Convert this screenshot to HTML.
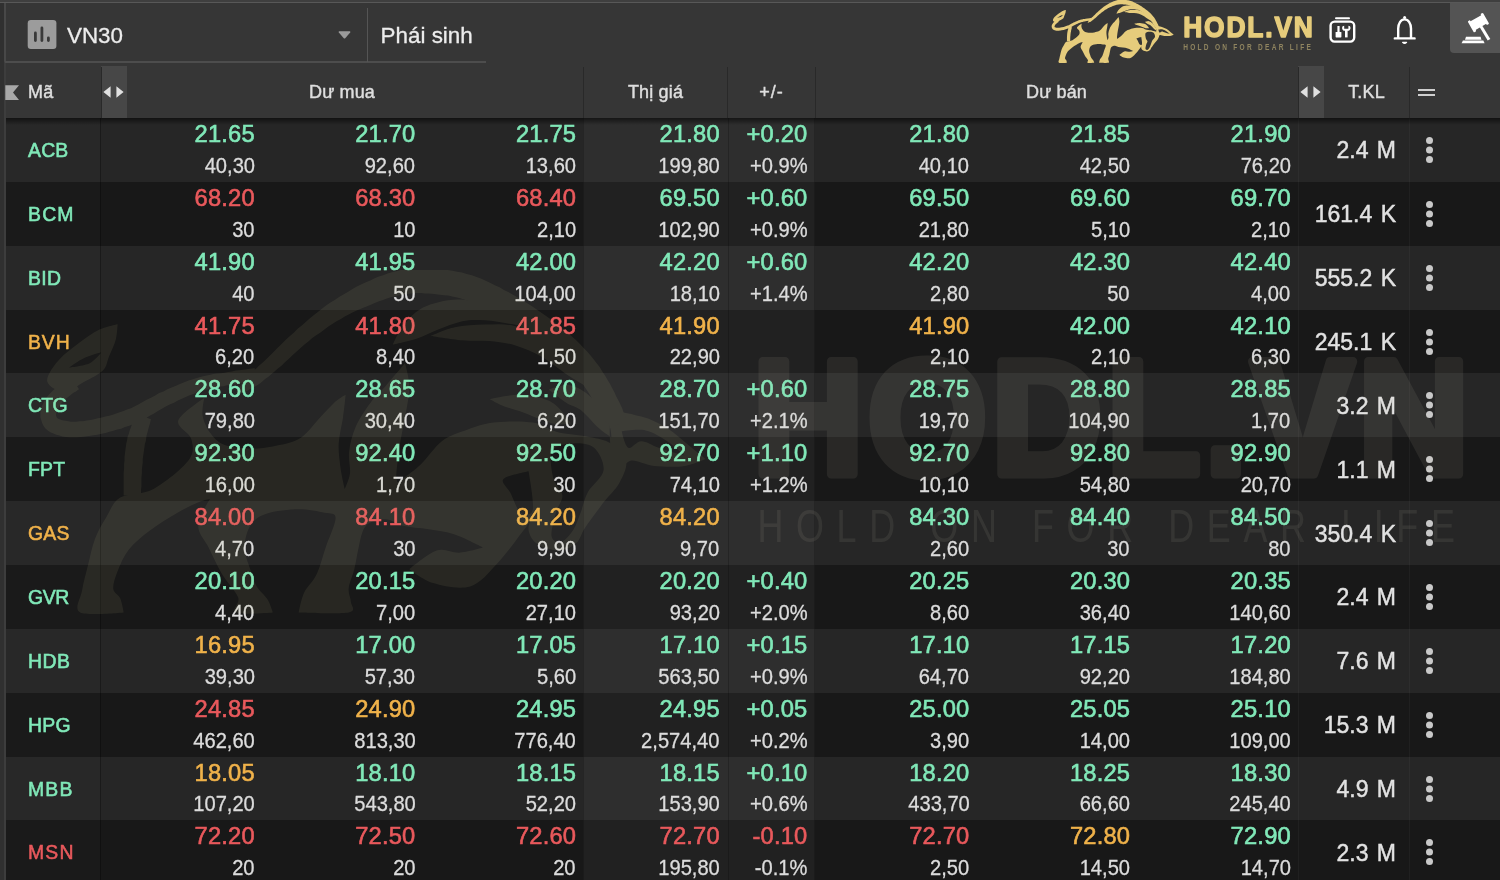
<!DOCTYPE html>
<html lang="vi"><head><meta charset="utf-8"><title>VN30</title>
<style>
*{box-sizing:border-box;margin:0;padding:0}
html,body{width:1500px;height:880px;overflow:hidden;background:#363636}
body{position:relative;font-family:"Liberation Sans",sans-serif;color:#e6e6e6}
.abs{position:absolute}
.r{position:absolute;left:6px;width:1494px;height:64.5px}
.r.a{background:#262626}
.r.b{background:#181818}
.r i{position:absolute;top:0;height:64px;display:block}
.r i.m{left:0;width:95px;background:rgba(255,255,255,.012);border-right:1px solid rgba(0,0,0,.35)}
.r i.hl{left:577px;width:232px;background:linear-gradient(90deg,transparent 143.5px,rgba(0,0,0,.22) 143.5px,rgba(0,0,0,.22) 144.5px,transparent 144.5px),rgba(255,255,255,.04);border-left:1px solid rgba(0,0,0,.18);border-right:1px solid rgba(0,0,0,.18)}
.r i.k{left:1292px;width:112px;border-left:1px solid rgba(255,255,255,.035);border-right:1px solid rgba(255,255,255,.035)}
.r span{position:absolute;white-space:nowrap}
.p{top:4px;font-size:23.7px;line-height:24px;letter-spacing:.2px;margin-right:-.2px;-webkit-text-stroke:.6px currentColor}
.v{top:37.9px;font-size:21.2px;line-height:20px;color:#dcdcdc;transform:scaleX(.95);transform-origin:100% 50%;-webkit-text-stroke:.3px currentColor}
.s{left:22px;top:22px;font-size:19.4px;line-height:20px;-webkit-text-stroke:.55px currentColor}
.t{right:104px;top:20.4px;font-size:23px;line-height:24px;color:#e2e2e2;word-spacing:2px;-webkit-text-stroke:.45px currentColor}
.d{position:absolute;left:1420px;top:19px;width:7px;height:7px;border-radius:50%;background:#c9c9c9;box-shadow:0 9.5px 0 #c9c9c9,0 19px 0 #c9c9c9}
.hd{position:absolute;top:81.4px;font-size:18px;line-height:22px;color:#dedede;letter-spacing:.15px;-webkit-text-stroke:.45px currentColor;white-space:nowrap;transform:translateX(-50%)}
.vl{position:absolute;top:67px;height:51px;width:1px;background:#292929}
.top{position:absolute;font-size:22.4px;line-height:24px;color:#ececec;-webkit-text-stroke:.3px currentColor;white-space:nowrap}
</style></head><body><div id="w" style="position:absolute;left:0;top:0;width:1500px;height:880px;will-change:transform">
<!-- frame strips -->
<div class="abs" style="left:0;top:0;width:1500px;height:2px;background:#3f3f3f"></div>
<div class="abs" style="left:0;top:2px;width:1500px;height:1px;background:#585858"></div>
<div class="abs" style="left:0;top:3px;width:4px;height:877px;background:#303030"></div>
<div class="abs" style="left:4px;top:3px;width:2px;height:877px;background:#3d3d3d"></div>
<!-- select box borders -->
<div class="abs" style="left:4px;top:3px;width:2px;height:60px;background:#484848;border-bottom-left-radius:2px"></div>
<div class="abs" style="left:5px;top:61px;width:481px;height:2px;background:#4d4d4d"></div>
<div class="abs" style="left:367px;top:8px;width:1px;height:54px;background:#555"></div>
<!-- VN30 icon -->
<svg class="abs" style="left:27px;top:20px" width="30" height="29" viewBox="0 0 30 29"><rect x=".7" y="0" width="28.7" height="28.9" rx="3.2" fill="#9c9c9c"/><g stroke="#3a3a3a" stroke-width="2.8" stroke-linecap="round"><path d="M8.4 13v7.6M14.9 7.9v12.7M21.4 18v2.6"/></g></svg>
<span class="top" style="left:67px;top:24px">VN30</span>
<svg class="abs" style="left:338px;top:31px" width="13" height="8" viewBox="0 0 13 8"><path d="M1.2.3h10.6q1 .2.4 1.1L7.2 7.2q-.7.7-1.4 0L.8 1.4Q.2.5 1.2.3z" fill="#9a9a9a"/></svg>
<span class="top" style="left:380.6px;top:24px">Phái sinh</span>
<!-- header row -->
<div class="abs" style="left:101px;top:66px;width:26px;height:52px;background:#474747"></div>
<div class="abs" style="left:1298px;top:66px;width:26px;height:52px;background:#474747"></div>
<div class="vl" style="left:101px"></div><div class="vl" style="left:583px"></div><div class="vl" style="left:727px"></div><div class="vl" style="left:815px"></div><div class="vl" style="left:1298px"></div><div class="vl" style="left:1409px"></div>
<svg class="abs" style="left:5px;top:85px" width="15" height="16" viewBox="0 0 15 16"><path d="M.3.3H14L8 7.6l6 7.4H.3z" fill="#a8a8a8"/></svg>
<span class="hd" style="left:28px;transform:none">Mã</span>
<svg class="abs" style="left:103px;top:86px" width="21" height="12" viewBox="0 0 21 12"><path d="M7.6.3v11.4L.4 6zM13.4.3v11.4L20.6 6z" fill="#e0e0e0"/></svg>
<span class="hd" style="left:342px">Dư mua</span>
<span class="hd" style="left:655.5px">Thị giá</span>
<span class="hd" style="left:771.5px;letter-spacing:1px">+/-</span>
<span class="hd" style="left:1056.5px">Dư bán</span>
<svg class="abs" style="left:1300px;top:86px" width="21" height="12" viewBox="0 0 21 12"><path d="M7.6.3v11.4L.4 6zM13.4.3v11.4L20.6 6z" fill="#e0e0e0"/></svg>
<span class="hd" style="left:1366.5px">T.KL</span>
<div class="abs" style="left:1418px;top:88.5px;width:17px;height:2px;background:#cfcfcf"></div>
<div class="abs" style="left:1418px;top:93.5px;width:17px;height:2px;background:#cfcfcf"></div>
<!-- rows -->
<div class="r a" style="top:118.00px"><i class="m"></i><i class="hl"></i><i class="k"></i><span class="s" style="color:#80e8b8;letter-spacing:0.20px">ACB</span><span class="p" style="right:1245.4px;color:#80e8b8">21.65</span><span class="v" style="right:1245.4px">40,30</span><span class="p" style="right:1084.7px;color:#80e8b8">21.70</span><span class="v" style="right:1084.7px">92,60</span><span class="p" style="right:924.0px;color:#80e8b8">21.75</span><span class="v" style="right:924.0px">13,60</span><span class="p" style="right:780.4px;color:#80e8b8">21.80</span><span class="v" style="right:780.4px">199,80</span><span class="p" style="right:692.7px;color:#80e8b8">+0.20</span><span class="v" style="right:692.7px">+0.9%</span><span class="p" style="right:530.7px;color:#80e8b8">21.80</span><span class="v" style="right:530.7px">40,10</span><span class="p" style="right:370.0px;color:#80e8b8">21.85</span><span class="v" style="right:370.0px">42,50</span><span class="p" style="right:209.3px;color:#80e8b8">21.90</span><span class="v" style="right:209.3px">76,20</span><span class="t">2.4 M</span><b class="d"></b></div>
<div class="r b" style="top:181.86px"><i class="m"></i><i class="hl"></i><i class="k"></i><span class="s" style="color:#80e8b8;letter-spacing:1.20px">BCM</span><span class="p" style="right:1245.4px;color:#e9595c">68.20</span><span class="v" style="right:1245.4px">30</span><span class="p" style="right:1084.7px;color:#e9595c">68.30</span><span class="v" style="right:1084.7px">10</span><span class="p" style="right:924.0px;color:#e9595c">68.40</span><span class="v" style="right:924.0px">2,10</span><span class="p" style="right:780.4px;color:#80e8b8">69.50</span><span class="v" style="right:780.4px">102,90</span><span class="p" style="right:692.7px;color:#80e8b8">+0.60</span><span class="v" style="right:692.7px">+0.9%</span><span class="p" style="right:530.7px;color:#80e8b8">69.50</span><span class="v" style="right:530.7px">21,80</span><span class="p" style="right:370.0px;color:#80e8b8">69.60</span><span class="v" style="right:370.0px">5,10</span><span class="p" style="right:209.3px;color:#80e8b8">69.70</span><span class="v" style="right:209.3px">2,10</span><span class="t">161.4 K</span><b class="d"></b></div>
<div class="r a" style="top:245.72px"><i class="m"></i><i class="hl"></i><i class="k"></i><span class="s" style="color:#80e8b8;letter-spacing:0.35px">BID</span><span class="p" style="right:1245.4px;color:#80e8b8">41.90</span><span class="v" style="right:1245.4px">40</span><span class="p" style="right:1084.7px;color:#80e8b8">41.95</span><span class="v" style="right:1084.7px">50</span><span class="p" style="right:924.0px;color:#80e8b8">42.00</span><span class="v" style="right:924.0px">104,00</span><span class="p" style="right:780.4px;color:#80e8b8">42.20</span><span class="v" style="right:780.4px">18,10</span><span class="p" style="right:692.7px;color:#80e8b8">+0.60</span><span class="v" style="right:692.7px">+1.4%</span><span class="p" style="right:530.7px;color:#80e8b8">42.20</span><span class="v" style="right:530.7px">2,80</span><span class="p" style="right:370.0px;color:#80e8b8">42.30</span><span class="v" style="right:370.0px">50</span><span class="p" style="right:209.3px;color:#80e8b8">42.40</span><span class="v" style="right:209.3px">4,00</span><span class="t">555.2 K</span><b class="d"></b></div>
<div class="r b" style="top:309.58px"><i class="m"></i><i class="hl"></i><i class="k"></i><span class="s" style="color:#f0b24a;letter-spacing:0.90px">BVH</span><span class="p" style="right:1245.4px;color:#e9595c">41.75</span><span class="v" style="right:1245.4px">6,20</span><span class="p" style="right:1084.7px;color:#e9595c">41.80</span><span class="v" style="right:1084.7px">8,40</span><span class="p" style="right:924.0px;color:#e9595c">41.85</span><span class="v" style="right:924.0px">1,50</span><span class="p" style="right:780.4px;color:#f0b24a">41.90</span><span class="v" style="right:780.4px">22,90</span><span class="p" style="right:530.7px;color:#f0b24a">41.90</span><span class="v" style="right:530.7px">2,10</span><span class="p" style="right:370.0px;color:#80e8b8">42.00</span><span class="v" style="right:370.0px">2,10</span><span class="p" style="right:209.3px;color:#80e8b8">42.10</span><span class="v" style="right:209.3px">6,30</span><span class="t">245.1 K</span><b class="d"></b></div>
<div class="r a" style="top:373.44px"><i class="m"></i><i class="hl"></i><i class="k"></i><span class="s" style="color:#80e8b8;letter-spacing:-0.70px">CTG</span><span class="p" style="right:1245.4px;color:#80e8b8">28.60</span><span class="v" style="right:1245.4px">79,80</span><span class="p" style="right:1084.7px;color:#80e8b8">28.65</span><span class="v" style="right:1084.7px">30,40</span><span class="p" style="right:924.0px;color:#80e8b8">28.70</span><span class="v" style="right:924.0px">6,20</span><span class="p" style="right:780.4px;color:#80e8b8">28.70</span><span class="v" style="right:780.4px">151,70</span><span class="p" style="right:692.7px;color:#80e8b8">+0.60</span><span class="v" style="right:692.7px">+2.1%</span><span class="p" style="right:530.7px;color:#80e8b8">28.75</span><span class="v" style="right:530.7px">19,70</span><span class="p" style="right:370.0px;color:#80e8b8">28.80</span><span class="v" style="right:370.0px">104,90</span><span class="p" style="right:209.3px;color:#80e8b8">28.85</span><span class="v" style="right:209.3px">1,70</span><span class="t">3.2 M</span><b class="d"></b></div>
<div class="r b" style="top:437.30px"><i class="m"></i><i class="hl"></i><i class="k"></i><span class="s" style="color:#80e8b8;letter-spacing:0.25px">FPT</span><span class="p" style="right:1245.4px;color:#80e8b8">92.30</span><span class="v" style="right:1245.4px">16,00</span><span class="p" style="right:1084.7px;color:#80e8b8">92.40</span><span class="v" style="right:1084.7px">1,70</span><span class="p" style="right:924.0px;color:#80e8b8">92.50</span><span class="v" style="right:924.0px">30</span><span class="p" style="right:780.4px;color:#80e8b8">92.70</span><span class="v" style="right:780.4px">74,10</span><span class="p" style="right:692.7px;color:#80e8b8">+1.10</span><span class="v" style="right:692.7px">+1.2%</span><span class="p" style="right:530.7px;color:#80e8b8">92.70</span><span class="v" style="right:530.7px">10,10</span><span class="p" style="right:370.0px;color:#80e8b8">92.80</span><span class="v" style="right:370.0px">54,80</span><span class="p" style="right:209.3px;color:#80e8b8">92.90</span><span class="v" style="right:209.3px">20,70</span><span class="t">1.1 M</span><b class="d"></b></div>
<div class="r a" style="top:501.16px"><i class="m"></i><i class="hl"></i><i class="k"></i><span class="s" style="color:#f0b24a;letter-spacing:0.25px">GAS</span><span class="p" style="right:1245.4px;color:#e9595c">84.00</span><span class="v" style="right:1245.4px">4,70</span><span class="p" style="right:1084.7px;color:#e9595c">84.10</span><span class="v" style="right:1084.7px">30</span><span class="p" style="right:924.0px;color:#f0b24a">84.20</span><span class="v" style="right:924.0px">9,90</span><span class="p" style="right:780.4px;color:#f0b24a">84.20</span><span class="v" style="right:780.4px">9,70</span><span class="p" style="right:530.7px;color:#80e8b8">84.30</span><span class="v" style="right:530.7px">2,60</span><span class="p" style="right:370.0px;color:#80e8b8">84.40</span><span class="v" style="right:370.0px">30</span><span class="p" style="right:209.3px;color:#80e8b8">84.50</span><span class="v" style="right:209.3px">80</span><span class="t">350.4 K</span><b class="d"></b></div>
<div class="r b" style="top:565.02px"><i class="m"></i><i class="hl"></i><i class="k"></i><span class="s" style="color:#80e8b8;letter-spacing:-0.40px">GVR</span><span class="p" style="right:1245.4px;color:#80e8b8">20.10</span><span class="v" style="right:1245.4px">4,40</span><span class="p" style="right:1084.7px;color:#80e8b8">20.15</span><span class="v" style="right:1084.7px">7,00</span><span class="p" style="right:924.0px;color:#80e8b8">20.20</span><span class="v" style="right:924.0px">27,10</span><span class="p" style="right:780.4px;color:#80e8b8">20.20</span><span class="v" style="right:780.4px">93,20</span><span class="p" style="right:692.7px;color:#80e8b8">+0.40</span><span class="v" style="right:692.7px">+2.0%</span><span class="p" style="right:530.7px;color:#80e8b8">20.25</span><span class="v" style="right:530.7px">8,60</span><span class="p" style="right:370.0px;color:#80e8b8">20.30</span><span class="v" style="right:370.0px">36,40</span><span class="p" style="right:209.3px;color:#80e8b8">20.35</span><span class="v" style="right:209.3px">140,60</span><span class="t">2.4 M</span><b class="d"></b></div>
<div class="r a" style="top:628.88px"><i class="m"></i><i class="hl"></i><i class="k"></i><span class="s" style="color:#80e8b8;letter-spacing:0.50px">HDB</span><span class="p" style="right:1245.4px;color:#f0b24a">16.95</span><span class="v" style="right:1245.4px">39,30</span><span class="p" style="right:1084.7px;color:#80e8b8">17.00</span><span class="v" style="right:1084.7px">57,30</span><span class="p" style="right:924.0px;color:#80e8b8">17.05</span><span class="v" style="right:924.0px">5,60</span><span class="p" style="right:780.4px;color:#80e8b8">17.10</span><span class="v" style="right:780.4px">563,50</span><span class="p" style="right:692.7px;color:#80e8b8">+0.15</span><span class="v" style="right:692.7px">+0.9%</span><span class="p" style="right:530.7px;color:#80e8b8">17.10</span><span class="v" style="right:530.7px">64,70</span><span class="p" style="right:370.0px;color:#80e8b8">17.15</span><span class="v" style="right:370.0px">92,20</span><span class="p" style="right:209.3px;color:#80e8b8">17.20</span><span class="v" style="right:209.3px">184,80</span><span class="t">7.6 M</span><b class="d"></b></div>
<div class="r b" style="top:692.74px"><i class="m"></i><i class="hl"></i><i class="k"></i><span class="s" style="color:#80e8b8;letter-spacing:0.25px">HPG</span><span class="p" style="right:1245.4px;color:#e9595c">24.85</span><span class="v" style="right:1245.4px">462,60</span><span class="p" style="right:1084.7px;color:#f0b24a">24.90</span><span class="v" style="right:1084.7px">813,30</span><span class="p" style="right:924.0px;color:#80e8b8">24.95</span><span class="v" style="right:924.0px">776,40</span><span class="p" style="right:780.4px;color:#80e8b8">24.95</span><span class="v" style="right:780.4px">2,574,40</span><span class="p" style="right:692.7px;color:#80e8b8">+0.05</span><span class="v" style="right:692.7px">+0.2%</span><span class="p" style="right:530.7px;color:#80e8b8">25.00</span><span class="v" style="right:530.7px">3,90</span><span class="p" style="right:370.0px;color:#80e8b8">25.05</span><span class="v" style="right:370.0px">14,00</span><span class="p" style="right:209.3px;color:#80e8b8">25.10</span><span class="v" style="right:209.3px">109,00</span><span class="t">15.3 M</span><b class="d"></b></div>
<div class="r a" style="top:756.60px"><i class="m"></i><i class="hl"></i><i class="k"></i><span class="s" style="color:#80e8b8;letter-spacing:1.20px">MBB</span><span class="p" style="right:1245.4px;color:#f0b24a">18.05</span><span class="v" style="right:1245.4px">107,20</span><span class="p" style="right:1084.7px;color:#80e8b8">18.10</span><span class="v" style="right:1084.7px">543,80</span><span class="p" style="right:924.0px;color:#80e8b8">18.15</span><span class="v" style="right:924.0px">52,20</span><span class="p" style="right:780.4px;color:#80e8b8">18.15</span><span class="v" style="right:780.4px">153,90</span><span class="p" style="right:692.7px;color:#80e8b8">+0.10</span><span class="v" style="right:692.7px">+0.6%</span><span class="p" style="right:530.7px;color:#80e8b8">18.20</span><span class="v" style="right:530.7px">433,70</span><span class="p" style="right:370.0px;color:#80e8b8">18.25</span><span class="v" style="right:370.0px">66,60</span><span class="p" style="right:209.3px;color:#80e8b8">18.30</span><span class="v" style="right:209.3px">245,40</span><span class="t">4.9 M</span><b class="d"></b></div>
<div class="r b" style="top:820.46px"><i class="m"></i><i class="hl"></i><i class="k"></i><span class="s" style="color:#e9595c;letter-spacing:1.20px">MSN</span><span class="p" style="right:1245.4px;color:#e9595c">72.20</span><span class="v" style="right:1245.4px">20</span><span class="p" style="right:1084.7px;color:#e9595c">72.50</span><span class="v" style="right:1084.7px">20</span><span class="p" style="right:924.0px;color:#e9595c">72.60</span><span class="v" style="right:924.0px">20</span><span class="p" style="right:780.4px;color:#e9595c">72.70</span><span class="v" style="right:780.4px">195,80</span><span class="p" style="right:692.7px;color:#e9595c">-0.10</span><span class="v" style="right:692.7px">-0.1%</span><span class="p" style="right:530.7px;color:#e9595c">72.70</span><span class="v" style="right:530.7px">2,50</span><span class="p" style="right:370.0px;color:#f0b24a">72.80</span><span class="v" style="right:370.0px">14,50</span><span class="p" style="right:209.3px;color:#80e8b8">72.90</span><span class="v" style="right:209.3px">14,70</span><span class="t">2.3 M</span><b class="d"></b></div>
<div class="abs" style="left:6px;top:118px;width:1494px;height:7px;background:linear-gradient(rgba(0,0,0,.55),rgba(0,0,0,0))"></div>

<!-- logo -->
<svg class="abs" style="left:1045px;top:0" width="140" height="70" viewBox="0 0 1760 880" fill="#e6cc7c"><path fill-rule="evenodd" d="M345,505 C371,491 410,459 425,440 C440,421 436,406 432,390 C428,374 397,363 402,347 C407,331 462,295 462,295 C462,295 456,322 458,335 C460,348 467,364 475,375 C483,386 491,396 505,402 C519,408 541,411 560,412 C579,413 600,411 620,407 C640,403 662,400 680,390 C698,380 712,359 725,345 C738,331 750,318 760,308 C770,298 788,288 788,288 C788,288 785,321 782,340 C779,359 773,381 772,400 C771,419 774,438 776,455 C778,472 786,505 786,505 C786,505 796,484 798,470 C800,456 794,438 796,420 C798,402 803,380 812,360 C821,340 839,315 850,300 C861,285 868,282 880,268 C892,254 925,215 925,215 C925,215 935,249 935,270 C935,291 929,317 925,340 C921,363 915,388 912,410 C909,432 906,457 905,470 C904,483 908,490 908,490 C908,490 943,466 960,450 C977,434 992,409 1010,395 C1028,381 1050,375 1070,368 C1090,361 1105,355 1130,352 C1155,349 1195,348 1220,352 C1245,356 1258,370 1280,375 C1302,380 1330,381 1350,385 C1370,389 1386,391 1400,400 C1414,409 1432,425 1435,440 C1438,455 1429,473 1420,490 C1411,507 1393,522 1380,540 C1367,558 1350,580 1340,595 C1330,610 1330,621 1320,630 C1310,639 1295,647 1280,647 C1265,647 1242,640 1230,632 C1218,624 1212,612 1210,600 C1208,588 1220,560 1220,560 C1220,560 1217,574 1210,585 C1203,596 1192,609 1180,625 C1168,641 1152,662 1135,680 C1118,698 1099,723 1075,730 C1051,737 1013,729 990,722 C967,715 935,690 935,690 C935,690 979,653 998,647 C1017,641 1032,653 1050,652 C1068,651 1105,640 1105,640 C1105,640 1061,617 1040,610 C1019,603 1000,601 980,598 C960,595 937,594 920,590 C903,586 894,575 880,575 C866,575 845,579 835,590 C825,601 822,623 818,640 C814,657 812,674 808,690 C804,706 796,722 795,735 C794,748 800,756 800,765 C800,774 815,786 795,790 C775,794 680,790 680,790 C680,790 685,760 692,745 C699,730 714,718 722,700 C730,682 735,661 742,640 C749,619 765,585 765,572 C765,559 754,563 740,560 C726,557 702,552 680,552 C658,552 624,556 605,562 C586,568 576,577 568,590 C560,603 555,623 555,640 C555,657 563,675 568,690 C573,705 576,718 583,730 C590,742 602,750 608,760 C614,770 620,790 620,790 C620,790 548,796 535,790 C522,784 546,770 540,755 C534,740 513,719 502,700 C491,681 481,658 472,640 C463,622 448,609 448,590 C448,571 475,528 475,528 C475,528 462,530 450,535 C438,540 419,549 400,560 C381,571 354,588 335,602 C316,616 300,630 288,645 C276,660 268,680 262,695 C256,710 251,725 252,735 C253,745 264,748 268,757 C272,766 276,790 276,790 C276,790 192,798 176,790 C160,782 177,758 180,740 C183,722 189,700 194,680 C199,660 203,638 210,620 C217,602 225,588 235,572 C245,556 250,536 268,525 C286,514 319,519 345,505Z M1265,416 C1273,403 1297,401 1313,400 C1329,399 1349,400 1361,410 C1373,420 1385,445 1383,462 C1381,479 1356,496 1347,512 C1338,528 1336,545 1330,560 C1324,575 1320,589 1313,600 C1306,611 1293,626 1285,628 C1277,630 1265,625 1263,614 C1261,603 1269,576 1273,560 C1277,544 1289,533 1288,520 C1287,507 1271,497 1267,480 C1263,463 1257,429 1265,416Z M1152,482 C1159,474 1210,464 1210,464 C1210,464 1223,536 1220,552 C1217,568 1201,566 1192,560 C1183,554 1175,527 1168,514 C1161,501 1145,490 1152,482Z"/><path fill-rule="evenodd" d="M262,125 C262,125 232,131 215,140 C198,149 176,166 160,178 C144,190 130,202 120,215 C110,228 97,247 100,258 C103,269 126,282 140,282 C154,282 170,266 185,258 C200,250 218,242 228,232 C238,222 237,212 242,200 C247,188 255,172 258,160 C261,148 262,125 262,125Z M150,225 C150,225 172,209 185,203 C198,197 225,190 225,190 C225,190 210,209 198,215 C186,221 150,225 150,225Z M1405,335 C1417,321 1449,333 1470,338 C1491,343 1512,354 1530,365 C1548,376 1565,393 1580,405 C1595,417 1618,436 1618,436 C1618,436 1590,449 1570,452 C1550,455 1521,454 1500,452 C1479,450 1458,437 1445,440 C1432,443 1420,470 1420,470 C1420,470 1402,442 1400,420 C1398,398 1393,349 1405,335Z M1425,372 C1425,372 1462,366 1480,370 C1498,374 1515,385 1530,395 C1545,405 1570,428 1570,428 C1570,428 1527,416 1510,410 C1493,404 1482,395 1470,395 C1458,395 1448,414 1440,410 C1432,406 1425,372 1425,372Z M1121,298 C1121,298 1169,287 1193,288 C1217,289 1246,295 1265,306 C1284,317 1308,354 1308,354 C1308,354 1283,358 1265,354 C1247,350 1220,337 1201,330 C1182,323 1166,319 1153,314 C1140,309 1121,298 1121,298Z M1257,276 C1257,276 1289,263 1305,266 C1321,269 1340,280 1355,294 C1370,308 1385,335 1393,350 C1401,365 1401,386 1401,386 C1401,386 1381,373 1369,362 C1357,351 1341,331 1329,322 C1317,313 1309,314 1297,306 C1285,298 1257,276 1257,276Z M897,172 C897,172 910,142 921,128 C932,114 944,100 961,90 C978,80 1005,73 1025,70 C1045,67 1062,68 1081,72 C1100,76 1122,82 1142,92 C1162,102 1201,130 1201,130 C1201,130 1180,126 1165,124 C1150,122 1128,117 1110,116 C1092,115 1075,114 1057,118 C1039,122 1017,131 1000,138 C983,145 970,152 953,158 C936,164 897,172 897,172Z M985,152 C985,152 1019,136 1040,132 C1061,128 1087,126 1110,126 C1133,126 1154,123 1180,130 C1206,137 1242,154 1265,170 C1288,186 1306,207 1320,224 C1334,241 1350,272 1350,272 C1350,272 1318,254 1300,242 C1282,230 1260,211 1240,200 C1220,189 1200,180 1180,174 C1160,168 1140,166 1120,164 C1100,162 1080,164 1057,162 C1034,160 985,152 985,152Z"/><path d="M540,286 L543,285 L547,284 L551,282 L556,280 L562,278 L567,275 L573,272 L579,269 L585,265 L591,261 L597,256 L603,251 L610,246 L617,240 L624,234 L631,228 L640,221 L648,213 L657,205 L666,196 L675,188 L684,180 L693,172 L702,165 L711,157 L721,150 L730,144 L739,137 L749,130 L758,124 L767,118 L777,113 L786,107 L796,102 L806,97 L816,92 L826,88 L836,84 L846,80 L855,76 L865,72 L874,69 L883,66 L892,63 L900,61 L909,59 L917,57 L925,56 L933,55 L940,54 L948,53 L955,53 L963,53 L971,54 L979,54 L988,55 L997,56 L1006,57 L1015,58 L1025,59 L1034,61 L1043,63 L1052,65 L1061,68 L1070,71 L1079,74 L1089,78 L1098,82 L1107,86 L1117,91 L1127,96 L1137,101 L1147,106 L1157,111 L1167,117 L1177,123 L1188,129 L1197,136 L1207,142 L1217,148 L1226,155 L1235,161 L1243,168 L1252,174 L1260,181 L1268,187 L1276,194 L1283,201 L1290,209 L1297,216 L1304,224 L1311,232 L1317,240 L1324,248 L1330,256 L1336,264 L1341,272 L1347,281 L1352,289 L1357,298 L1362,307 L1367,315 L1372,323 L1376,330 L1380,336 L1384,342 L1387,347 L1391,352 L1394,356 L1396,359 L1398,363 L1400,365 L1436,347 L1435,344 L1434,340 L1432,336 L1430,331 L1428,325 L1426,319 L1423,313 L1420,306 L1416,299 L1412,291 L1408,282 L1403,273 L1398,263 L1392,253 L1386,243 L1380,234 L1374,224 L1367,215 L1360,206 L1353,197 L1345,188 L1337,180 L1329,171 L1321,163 L1312,155 L1303,147 L1294,139 L1285,132 L1276,125 L1267,118 L1257,111 L1247,104 L1237,97 L1227,90 L1217,83 L1206,76 L1195,70 L1184,63 L1174,57 L1163,51 L1153,46 L1143,40 L1132,35 L1122,30 L1111,25 L1101,20 L1090,16 L1079,12 L1067,9 L1056,6 L1045,4 L1034,2 L1023,0 L1013,-1 L1002,-2 L992,-3 L983,-4 L973,-4 L964,-4 L954,-4 L945,-4 L935,-3 L925,-1 L915,0 L905,3 L895,5 L885,8 L875,12 L865,15 L855,19 L845,24 L835,28 L825,33 L814,38 L804,44 L794,50 L784,56 L773,62 L763,69 L753,75 L743,82 L734,89 L724,97 L715,104 L705,112 L696,120 L687,128 L678,135 L669,144 L659,153 L650,161 L641,170 L632,179 L624,187 L616,195 L609,202 L602,209 L595,215 L588,221 L582,227 L576,232 L571,237 L566,242 L561,247 L557,252 L553,257 L549,262 L546,267 L543,272 L540,276 L538,279 L536,282Z M157,249 L154,251 L149,254 L144,257 L138,260 L131,264 L125,269 L119,273 L113,278 L108,283 L104,287 L100,292 L96,298 L93,303 L90,309 L87,315 L85,321 L84,327 L84,334 L84,340 L86,346 L88,353 L91,359 L95,365 L101,370 L107,374 L114,377 L121,380 L128,382 L135,384 L143,385 L151,386 L160,386 L168,386 L177,385 L187,384 L196,383 L206,381 L215,380 L225,378 L234,376 L243,373 L252,371 L261,368 L270,366 L279,362 L289,359 L298,355 L307,351 L317,347 L327,342 L336,336 L346,331 L355,325 L364,320 L373,315 L382,310 L392,306 L401,301 L410,297 L419,293 L428,289 L437,286 L446,282 L455,279 L463,277 L472,275 L480,273 L489,271 L497,269 L506,268 L514,266 L523,265 L531,263 L540,262 L548,260 L557,258 L565,257 L572,256 L578,255 L582,254 L578,226 L573,227 L567,228 L560,229 L552,230 L543,231 L535,232 L526,234 L517,235 L509,237 L501,238 L492,239 L483,240 L474,242 L465,244 L455,246 L445,249 L436,252 L426,255 L416,259 L406,263 L397,267 L387,271 L377,275 L368,280 L358,284 L348,290 L338,295 L328,300 L319,305 L310,310 L301,315 L293,319 L284,322 L276,325 L267,328 L259,331 L251,334 L243,336 L234,338 L226,340 L217,342 L208,344 L200,346 L191,347 L182,349 L174,349 L167,350 L160,350 L154,350 L148,349 L142,348 L137,347 L132,346 L128,344 L125,343 L123,342 L122,341 L122,340 L121,339 L121,338 L120,336 L120,333 L120,331 L121,329 L121,326 L122,324 L124,320 L126,317 L128,313 L131,309 L134,306 L137,302 L140,299 L145,295 L150,291 L155,287 L160,283 L166,280 L170,277 L173,275Z M305,332 L303,336 L301,341 L299,347 L296,354 L293,362 L290,370 L288,378 L285,385 L284,393 L282,401 L281,408 L280,416 L279,424 L278,432 L278,440 L277,448 L277,458 L276,468 L276,478 L276,488 L276,498 L276,507 L276,514 L276,520 L316,520 L316,515 L316,507 L317,499 L317,489 L317,479 L318,469 L318,460 L319,452 L320,444 L320,436 L321,429 L322,422 L323,415 L324,408 L325,401 L327,395 L328,388 L329,381 L331,374 L333,366 L335,359 L337,353 L338,348 L339,344Z"/></svg>
<svg class="abs" style="left:1180px;top:10px" width="140" height="46" viewBox="0 0 140 46">
<g transform="translate(3.2 27.3) scale(.92 1)"><text x="0" y="0" font-family="Liberation Sans, sans-serif" font-weight="bold" font-size="28.7" fill="#e6cc7c" stroke="#e6cc7c" stroke-width="1.5" stroke-linejoin="round" textLength="141" lengthAdjust="spacing">HODL.VN</text></g>
<g transform="translate(3.2 39.9) scale(.8 1)"><text x="0" y="0" font-family="Liberation Sans, sans-serif" font-weight="bold" font-size="8.2" fill="#8f845f" textLength="159.5" lengthAdjust="spacing">HOLD ON FOR DEAR LIFE</text></g></svg>
<!-- toolbar icons -->
<svg class="abs" style="left:1327px;top:15px" width="32" height="30" viewBox="0 0 32 30" fill="none" stroke="#fff">
<rect x="3.6" y="6.6" width="23.6" height="20" rx="4" stroke-width="2.4"/><path d="M9 3.2h13" stroke-width="2" stroke-linecap="round"/>
<g fill="#fff" stroke="none"><rect x="10.4" y="11" width="2.2" height="7"/><rect x="8.6" y="17" width="5.8" height="5.4" rx=".6"/><rect x="18" y="15" width="2.6" height="7.4"/><path d="M15.6 11.2l1.6-.4v3h4.2v-3l1.6.4q1.4 2.6-1 4.6h-5.4q-2.4-2-1-4.6z"/></g></svg>
<svg class="abs" style="left:1391px;top:14px" width="28" height="32" viewBox="0 0 28 32" fill="none" stroke="#fff" stroke-width="2.4" stroke-linejoin="round" stroke-linecap="round">
<circle cx="13.6" cy="3.6" r="1.5" fill="#fff" stroke="none"/><path d="M7.2 24V14.6C7.2 9.6 9.8 5.4 13.6 5.4s6.4 4.2 6.4 9.2V24M3.8 24.4h19.8"/><path d="M11.6 28.3q2 2 4 0z" fill="#fff" stroke-width="1.2"/></svg>
<div class="abs" style="left:1450px;top:3px;width:50px;height:50px;background:#545454;border-bottom-left-radius:4px"></div>
<svg class="abs" style="left:1458px;top:10px" width="36" height="36" viewBox="0 0 36 36" fill="#fff">
<g transform="rotate(-30 20.4 12.6)"><rect x="13.4" y="7.6" width="14" height="10" rx=".8"/><rect x="11.6" y="6.2" width="2.8" height="12.8" rx="1"/><rect x="26.4" y="6.2" width="2.8" height="12.8" rx="1"/></g>
<path d="M21.6 17l2.5-1.5 8.2 13.4-2.6 1.6z"/>
<path d="M8 26.7h14.6l.9 3H7z"/><path d="M3.6 33.2l1.3-2.6h20.4l1.3 2.6z"/></svg>

<!-- watermark -->
<div class="abs" style="left:0;top:0;width:1500px;height:880px;opacity:.088;pointer-events:none;overflow:hidden">
<svg class="abs" style="left:4px;top:270px" width="763" height="381.5" viewBox="0 0 1760 880" fill="#ccca8c"><path fill-rule="evenodd" d="M345,505 C371,491 410,459 425,440 C440,421 436,406 432,390 C428,374 397,363 402,347 C407,331 462,295 462,295 C462,295 456,322 458,335 C460,348 467,364 475,375 C483,386 491,396 505,402 C519,408 541,411 560,412 C579,413 600,411 620,407 C640,403 662,400 680,390 C698,380 712,359 725,345 C738,331 750,318 760,308 C770,298 788,288 788,288 C788,288 785,321 782,340 C779,359 773,381 772,400 C771,419 774,438 776,455 C778,472 786,505 786,505 C786,505 796,484 798,470 C800,456 794,438 796,420 C798,402 803,380 812,360 C821,340 839,315 850,300 C861,285 868,282 880,268 C892,254 925,215 925,215 C925,215 935,249 935,270 C935,291 929,317 925,340 C921,363 915,388 912,410 C909,432 906,457 905,470 C904,483 908,490 908,490 C908,490 943,466 960,450 C977,434 992,409 1010,395 C1028,381 1050,375 1070,368 C1090,361 1105,355 1130,352 C1155,349 1195,348 1220,352 C1245,356 1258,370 1280,375 C1302,380 1330,381 1350,385 C1370,389 1386,391 1400,400 C1414,409 1432,425 1435,440 C1438,455 1429,473 1420,490 C1411,507 1393,522 1380,540 C1367,558 1350,580 1340,595 C1330,610 1330,621 1320,630 C1310,639 1295,647 1280,647 C1265,647 1242,640 1230,632 C1218,624 1212,612 1210,600 C1208,588 1220,560 1220,560 C1220,560 1217,574 1210,585 C1203,596 1192,609 1180,625 C1168,641 1152,662 1135,680 C1118,698 1099,723 1075,730 C1051,737 1013,729 990,722 C967,715 935,690 935,690 C935,690 979,653 998,647 C1017,641 1032,653 1050,652 C1068,651 1105,640 1105,640 C1105,640 1061,617 1040,610 C1019,603 1000,601 980,598 C960,595 937,594 920,590 C903,586 894,575 880,575 C866,575 845,579 835,590 C825,601 822,623 818,640 C814,657 812,674 808,690 C804,706 796,722 795,735 C794,748 800,756 800,765 C800,774 815,786 795,790 C775,794 680,790 680,790 C680,790 685,760 692,745 C699,730 714,718 722,700 C730,682 735,661 742,640 C749,619 765,585 765,572 C765,559 754,563 740,560 C726,557 702,552 680,552 C658,552 624,556 605,562 C586,568 576,577 568,590 C560,603 555,623 555,640 C555,657 563,675 568,690 C573,705 576,718 583,730 C590,742 602,750 608,760 C614,770 620,790 620,790 C620,790 548,796 535,790 C522,784 546,770 540,755 C534,740 513,719 502,700 C491,681 481,658 472,640 C463,622 448,609 448,590 C448,571 475,528 475,528 C475,528 462,530 450,535 C438,540 419,549 400,560 C381,571 354,588 335,602 C316,616 300,630 288,645 C276,660 268,680 262,695 C256,710 251,725 252,735 C253,745 264,748 268,757 C272,766 276,790 276,790 C276,790 192,798 176,790 C160,782 177,758 180,740 C183,722 189,700 194,680 C199,660 203,638 210,620 C217,602 225,588 235,572 C245,556 250,536 268,525 C286,514 319,519 345,505Z M1265,416 C1273,403 1297,401 1313,400 C1329,399 1349,400 1361,410 C1373,420 1385,445 1383,462 C1381,479 1356,496 1347,512 C1338,528 1336,545 1330,560 C1324,575 1320,589 1313,600 C1306,611 1293,626 1285,628 C1277,630 1265,625 1263,614 C1261,603 1269,576 1273,560 C1277,544 1289,533 1288,520 C1287,507 1271,497 1267,480 C1263,463 1257,429 1265,416Z M1152,482 C1159,474 1210,464 1210,464 C1210,464 1223,536 1220,552 C1217,568 1201,566 1192,560 C1183,554 1175,527 1168,514 C1161,501 1145,490 1152,482Z"/><path fill-rule="evenodd" d="M262,125 C262,125 232,131 215,140 C198,149 176,166 160,178 C144,190 130,202 120,215 C110,228 97,247 100,258 C103,269 126,282 140,282 C154,282 170,266 185,258 C200,250 218,242 228,232 C238,222 237,212 242,200 C247,188 255,172 258,160 C261,148 262,125 262,125Z M150,225 C150,225 172,209 185,203 C198,197 225,190 225,190 C225,190 210,209 198,215 C186,221 150,225 150,225Z M1405,335 C1417,321 1449,333 1470,338 C1491,343 1512,354 1530,365 C1548,376 1565,393 1580,405 C1595,417 1618,436 1618,436 C1618,436 1590,449 1570,452 C1550,455 1521,454 1500,452 C1479,450 1458,437 1445,440 C1432,443 1420,470 1420,470 C1420,470 1402,442 1400,420 C1398,398 1393,349 1405,335Z M1425,372 C1425,372 1462,366 1480,370 C1498,374 1515,385 1530,395 C1545,405 1570,428 1570,428 C1570,428 1527,416 1510,410 C1493,404 1482,395 1470,395 C1458,395 1448,414 1440,410 C1432,406 1425,372 1425,372Z M1121,298 C1121,298 1169,287 1193,288 C1217,289 1246,295 1265,306 C1284,317 1308,354 1308,354 C1308,354 1283,358 1265,354 C1247,350 1220,337 1201,330 C1182,323 1166,319 1153,314 C1140,309 1121,298 1121,298Z M1257,276 C1257,276 1289,263 1305,266 C1321,269 1340,280 1355,294 C1370,308 1385,335 1393,350 C1401,365 1401,386 1401,386 C1401,386 1381,373 1369,362 C1357,351 1341,331 1329,322 C1317,313 1309,314 1297,306 C1285,298 1257,276 1257,276Z M897,172 C897,172 910,142 921,128 C932,114 944,100 961,90 C978,80 1005,73 1025,70 C1045,67 1062,68 1081,72 C1100,76 1122,82 1142,92 C1162,102 1201,130 1201,130 C1201,130 1180,126 1165,124 C1150,122 1128,117 1110,116 C1092,115 1075,114 1057,118 C1039,122 1017,131 1000,138 C983,145 970,152 953,158 C936,164 897,172 897,172Z M985,152 C985,152 1019,136 1040,132 C1061,128 1087,126 1110,126 C1133,126 1154,123 1180,130 C1206,137 1242,154 1265,170 C1288,186 1306,207 1320,224 C1334,241 1350,272 1350,272 C1350,272 1318,254 1300,242 C1282,230 1260,211 1240,200 C1220,189 1200,180 1180,174 C1160,168 1140,166 1120,164 C1100,162 1080,164 1057,162 C1034,160 985,152 985,152Z"/><path d="M540,286 L543,285 L547,284 L551,282 L556,280 L562,278 L567,275 L573,272 L579,269 L585,265 L591,261 L597,256 L603,251 L610,246 L617,240 L624,234 L631,228 L640,221 L648,213 L657,205 L666,196 L675,188 L684,180 L693,172 L702,165 L711,157 L721,150 L730,144 L739,137 L749,130 L758,124 L767,118 L777,113 L786,107 L796,102 L806,97 L816,92 L826,88 L836,84 L846,80 L855,76 L865,72 L874,69 L883,66 L892,63 L900,61 L909,59 L917,57 L925,56 L933,55 L940,54 L948,53 L955,53 L963,53 L971,54 L979,54 L988,55 L997,56 L1006,57 L1015,58 L1025,59 L1034,61 L1043,63 L1052,65 L1061,68 L1070,71 L1079,74 L1089,78 L1098,82 L1107,86 L1117,91 L1127,96 L1137,101 L1147,106 L1157,111 L1167,117 L1177,123 L1188,129 L1197,136 L1207,142 L1217,148 L1226,155 L1235,161 L1243,168 L1252,174 L1260,181 L1268,187 L1276,194 L1283,201 L1290,209 L1297,216 L1304,224 L1311,232 L1317,240 L1324,248 L1330,256 L1336,264 L1341,272 L1347,281 L1352,289 L1357,298 L1362,307 L1367,315 L1372,323 L1376,330 L1380,336 L1384,342 L1387,347 L1391,352 L1394,356 L1396,359 L1398,363 L1400,365 L1436,347 L1435,344 L1434,340 L1432,336 L1430,331 L1428,325 L1426,319 L1423,313 L1420,306 L1416,299 L1412,291 L1408,282 L1403,273 L1398,263 L1392,253 L1386,243 L1380,234 L1374,224 L1367,215 L1360,206 L1353,197 L1345,188 L1337,180 L1329,171 L1321,163 L1312,155 L1303,147 L1294,139 L1285,132 L1276,125 L1267,118 L1257,111 L1247,104 L1237,97 L1227,90 L1217,83 L1206,76 L1195,70 L1184,63 L1174,57 L1163,51 L1153,46 L1143,40 L1132,35 L1122,30 L1111,25 L1101,20 L1090,16 L1079,12 L1067,9 L1056,6 L1045,4 L1034,2 L1023,0 L1013,-1 L1002,-2 L992,-3 L983,-4 L973,-4 L964,-4 L954,-4 L945,-4 L935,-3 L925,-1 L915,0 L905,3 L895,5 L885,8 L875,12 L865,15 L855,19 L845,24 L835,28 L825,33 L814,38 L804,44 L794,50 L784,56 L773,62 L763,69 L753,75 L743,82 L734,89 L724,97 L715,104 L705,112 L696,120 L687,128 L678,135 L669,144 L659,153 L650,161 L641,170 L632,179 L624,187 L616,195 L609,202 L602,209 L595,215 L588,221 L582,227 L576,232 L571,237 L566,242 L561,247 L557,252 L553,257 L549,262 L546,267 L543,272 L540,276 L538,279 L536,282Z M157,249 L154,251 L149,254 L144,257 L138,260 L131,264 L125,269 L119,273 L113,278 L108,283 L104,287 L100,292 L96,298 L93,303 L90,309 L87,315 L85,321 L84,327 L84,334 L84,340 L86,346 L88,353 L91,359 L95,365 L101,370 L107,374 L114,377 L121,380 L128,382 L135,384 L143,385 L151,386 L160,386 L168,386 L177,385 L187,384 L196,383 L206,381 L215,380 L225,378 L234,376 L243,373 L252,371 L261,368 L270,366 L279,362 L289,359 L298,355 L307,351 L317,347 L327,342 L336,336 L346,331 L355,325 L364,320 L373,315 L382,310 L392,306 L401,301 L410,297 L419,293 L428,289 L437,286 L446,282 L455,279 L463,277 L472,275 L480,273 L489,271 L497,269 L506,268 L514,266 L523,265 L531,263 L540,262 L548,260 L557,258 L565,257 L572,256 L578,255 L582,254 L578,226 L573,227 L567,228 L560,229 L552,230 L543,231 L535,232 L526,234 L517,235 L509,237 L501,238 L492,239 L483,240 L474,242 L465,244 L455,246 L445,249 L436,252 L426,255 L416,259 L406,263 L397,267 L387,271 L377,275 L368,280 L358,284 L348,290 L338,295 L328,300 L319,305 L310,310 L301,315 L293,319 L284,322 L276,325 L267,328 L259,331 L251,334 L243,336 L234,338 L226,340 L217,342 L208,344 L200,346 L191,347 L182,349 L174,349 L167,350 L160,350 L154,350 L148,349 L142,348 L137,347 L132,346 L128,344 L125,343 L123,342 L122,341 L122,340 L121,339 L121,338 L120,336 L120,333 L120,331 L121,329 L121,326 L122,324 L124,320 L126,317 L128,313 L131,309 L134,306 L137,302 L140,299 L145,295 L150,291 L155,287 L160,283 L166,280 L170,277 L173,275Z M305,332 L303,336 L301,341 L299,347 L296,354 L293,362 L290,370 L288,378 L285,385 L284,393 L282,401 L281,408 L280,416 L279,424 L278,432 L278,440 L277,448 L277,458 L276,468 L276,478 L276,488 L276,498 L276,507 L276,514 L276,520 L316,520 L316,515 L316,507 L317,499 L317,489 L317,479 L318,469 L318,460 L319,452 L320,444 L320,436 L321,429 L322,422 L323,415 L324,408 L325,401 L327,395 L328,388 L329,381 L331,374 L333,366 L335,359 L337,353 L338,348 L339,344Z"/></svg>
<svg class="abs" style="left:740px;top:330px" width="760" height="240" viewBox="0 0 760 240">
<g transform="translate(12.4 143.6) scale(.945 1)"><text x="0" y="0" font-family="Liberation Sans, sans-serif" font-weight="bold" font-size="163" fill="#d8d2bc" stroke="#d8d2bc" stroke-width="9" stroke-linejoin="round" textLength="758.5" lengthAdjust="spacing">HODL.VN</text></g>
<g transform="translate(17.5 212.3) scale(.78 1)"><text x="0" y="0" font-family="Liberation Sans, sans-serif" font-size="46" fill="#d8d2bc" textLength="894" lengthAdjust="spacing">HOLD ON FOR DEAR LIFE</text></g></svg>
</div>

</div></body></html>
